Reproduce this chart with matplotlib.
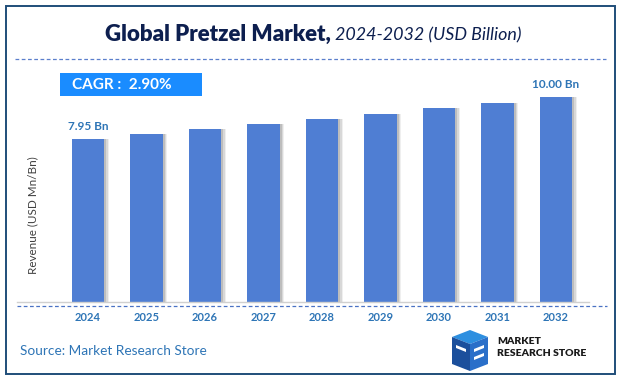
import matplotlib.pyplot as plt
from matplotlib.patches import Rectangle, Polygon
from matplotlib.lines import Line2D

years = ["2024", "2025", "2026", "2027", "2028", "2029", "2030", "2031", "2032"]
revenue = [7.95, 8.18, 8.42, 8.66, 8.91, 9.17, 9.44, 9.71, 10.00]
first_label = "7.95 Bn"
last_label = "10.00 Bn"
cagr_text = "CAGR :  2.90%"

W, H = 621, 381
plt.rcParams['font.family'] = ['Lato', 'DejaVu Sans']

fig = plt.figure(figsize=(W / 100, H / 100), dpi=100)


def fx(px):
    return px / W


def fy(py):
    return 1 - py / H


# outer frame
fig.patches.append(Rectangle((fx(6), fy(374)), fx(609), (368) / H, transform=fig.transFigure,
                             fill=False, edgecolor="#1f4e79", linewidth=1.4))

# title
fig.text(fx(331), fy(34), "Global Pretzel Market,", ha="right", va="center",
         fontsize=16, fontweight="heavy", color="#0d1f4f")
fig.text(fx(335), fy(35), "2024-2032 (USD Billion)", ha="left", va="center",
         fontsize=12.9, fontstyle="italic", color="#0d1f4f")

# dashed separators
fig.lines.append(Line2D([fx(15), fx(606)], [fy(59), fy(59)], transform=fig.transFigure,
                        color="#5b7fcc", linestyle=(0, (3, 2)), linewidth=0.9))
fig.lines.append(Line2D([fx(17), fx(589)], [fy(302), fy(302)], transform=fig.transFigure,
                        color="#d0d0d0", linewidth=1.0))
fig.lines.append(Line2D([fx(17), fx(607)], [fy(305.5), fy(305.5)], transform=fig.transFigure,
                        color="#4a72c4", linestyle=(0, (3, 2)), linewidth=0.9))

# main bars
ax = fig.add_axes([fx(58.75), fy(302), fx(585.25 - 58.75), (302 - 76.5) / H])
ax.set_xlim(-0.5, 8.5)
ax.set_ylim(0, 11)
x = list(range(len(years)))
for off, a in [(0.075, 0.12), (0.055, 0.2), (0.035, 0.3)]:
    ax.bar([i + off for i in x], revenue, width=0.56, color="#808080", alpha=a, zorder=1)
ax.bar(x, revenue, width=0.56, color="#4f7ed3", zorder=2)
ax.axis("off")
ax.text(x[0], revenue[0] + 0.35, first_label, ha="center", va="bottom",
        fontsize=8.5, fontweight="bold", color="#2e75b6")
ax.text(x[-1], revenue[-1] + 0.35, last_label, ha="center", va="bottom",
        fontsize=8.5, fontweight="bold", color="#2e75b6")
for i, yr in enumerate(years):
    ax.text(i, -0.75, yr, ha="center", va="center", fontsize=8,
            fontweight="bold", color="#2e75b6")

fig.text(fx(33), fy(215), "Revenue (USD Mn/Bn)", rotation=90, ha="center", va="center",
         fontsize=8.4, color="#404040")

# CAGR box
fig.patches.append(Rectangle((fx(60), fy(96)), fx(142), 23 / H, transform=fig.transFigure,
                             facecolor="#1a8cff", edgecolor="none"))
fig.text(fx(72), fy(85), cagr_text, ha="left", va="center", fontsize=11,
         fontweight="bold", color="white")

# source
fig.text(fx(20), fy(351), "Source: Market Research Store", ha="left", va="center",
         fontsize=9.8, color="#2e75b6")

# logo
def poly(pts, c):
    fig.patches.append(Polygon([(fx(a), fy(b)) for a, b in pts], closed=True,
                               transform=fig.transFigure, facecolor=c, edgecolor="none"))


poly([(452, 337), (470, 330), (488, 337), (470, 344)], "#2d8fe0")
poly([(452, 337), (470, 344), (470, 371), (452, 364)], "#1b4f9c")
poly([(470, 344), (488, 337), (488, 364), (470, 371)], "#2a6fc9")
poly([(456, 345), (466, 349), (466, 352), (456, 348)], "white")
poly([(474, 349), (484, 345), (484, 348), (474, 352)], "white")
poly([(474, 357), (484, 353), (484, 356), (474, 360)], "white")
fig.text(fx(497), fy(342), "MARKET", ha="left", va="center", fontsize=7.5,
         fontweight="heavy", color="#1a1a1a", fontstretch="condensed")
fig.text(fx(497), fy(354), "RESEARCH STORE", ha="left", va="center", fontsize=7.5,
         fontweight="heavy", color="#1a1a1a", fontstretch="condensed")

fig.savefig("out.png", dpi=100)
